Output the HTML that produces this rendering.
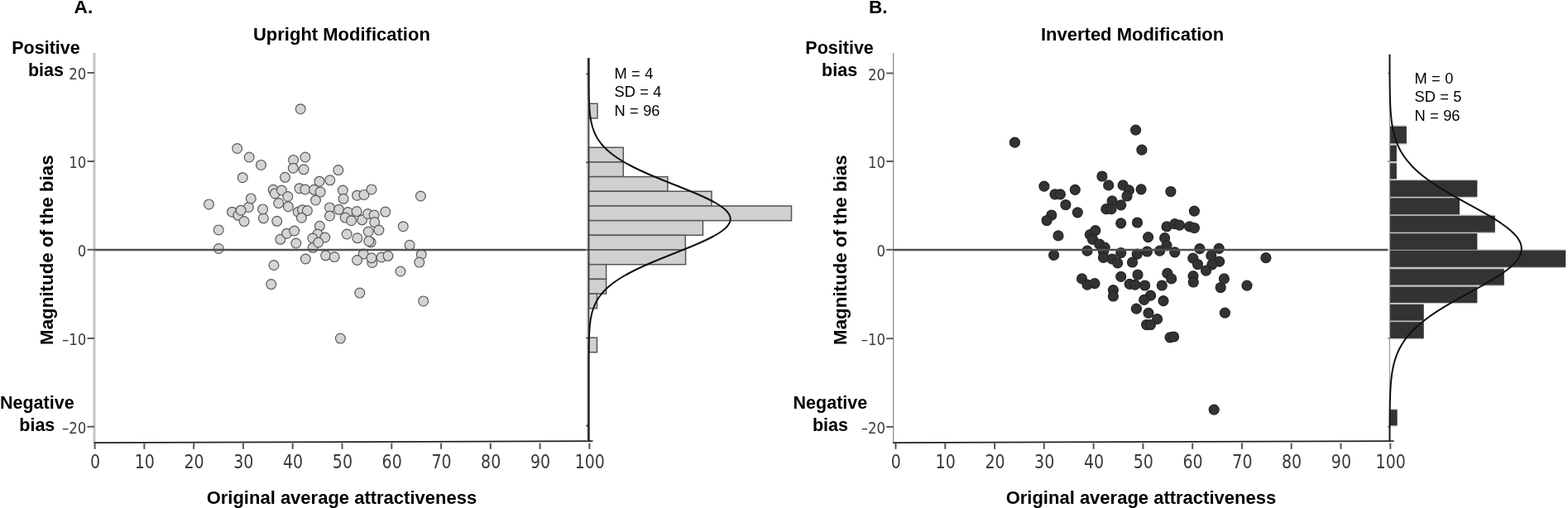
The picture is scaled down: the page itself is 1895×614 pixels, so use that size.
<!DOCTYPE html><html><head><meta charset="utf-8"><style>html,body{margin:0;padding:0;background:#fff}svg{display:block}</style></head><body>
<svg width="1895" height="614" viewBox="0 0 1895 614">
<rect width="1895" height="614" fill="#fff"/>
<text x="89.6" y="16.2" style="font-family:'Liberation Sans',Arial,sans-serif;font-weight:bold;font-size:22.6px">A.</text>
<text x="412.9" y="49" text-anchor="middle" style="font-family:'Liberation Sans',Arial,sans-serif;font-weight:bold;font-size:22px">Upright Modification</text>
<text x="55.5" y="65.1" text-anchor="middle" style="font-family:'Liberation Sans',Arial,sans-serif;font-weight:bold;font-size:21.5px">Positive</text>
<text x="55.5" y="92" text-anchor="middle" style="font-family:'Liberation Sans',Arial,sans-serif;font-weight:bold;font-size:21.5px">bias</text>
<text x="44.8" y="493.8" text-anchor="middle" style="font-family:'Liberation Sans',Arial,sans-serif;font-weight:bold;font-size:21.5px">Negative</text>
<text x="44.8" y="521" text-anchor="middle" style="font-family:'Liberation Sans',Arial,sans-serif;font-weight:bold;font-size:21.5px">bias</text>
<text transform="translate(64.0,302.1) rotate(-90)" text-anchor="middle" style="font-family:'Liberation Sans',Arial,sans-serif;font-weight:bold;font-size:22.35px">Magnitude of the bias</text>
<line x1="114" y1="64" x2="114" y2="535.1" style="stroke:#c4c4c4;stroke-width:3"/>
<line x1="105.5" y1="88" x2="114" y2="88" stroke="#5a5a5a" stroke-width="2"/>
<text transform="translate(104.4,96.2) scale(0.96,1)" text-anchor="end" fill="#3c3c3c" style="font-family:'DejaVu Sans Condensed','DejaVu Sans',sans-serif;font-stretch:condensed;font-size:19.2px">20</text>
<line x1="105.5" y1="195" x2="114" y2="195" stroke="#5a5a5a" stroke-width="2"/>
<text transform="translate(104.4,203.2) scale(0.96,1)" text-anchor="end" fill="#3c3c3c" style="font-family:'DejaVu Sans Condensed','DejaVu Sans',sans-serif;font-stretch:condensed;font-size:19.2px">10</text>
<line x1="105.5" y1="301.8" x2="114" y2="301.8" stroke="#5a5a5a" stroke-width="2"/>
<text transform="translate(104.4,310.0) scale(0.96,1)" text-anchor="end" fill="#3c3c3c" style="font-family:'DejaVu Sans Condensed','DejaVu Sans',sans-serif;font-stretch:condensed;font-size:19.2px">0</text>
<line x1="105.5" y1="408.9" x2="114" y2="408.9" stroke="#5a5a5a" stroke-width="2"/>
<text transform="translate(104.4,417.09999999999997) scale(0.96,1)" text-anchor="end" fill="#3c3c3c" style="font-family:'DejaVu Sans Condensed','DejaVu Sans',sans-serif;font-stretch:condensed;font-size:19.2px">–10</text>
<line x1="105.5" y1="515.7" x2="114" y2="515.7" stroke="#5a5a5a" stroke-width="2"/>
<text transform="translate(104.4,523.9000000000001) scale(0.96,1)" text-anchor="end" fill="#3c3c3c" style="font-family:'DejaVu Sans Condensed','DejaVu Sans',sans-serif;font-stretch:condensed;font-size:19.2px">–20</text>
<line x1="113.5" y1="535.1" x2="716.5" y2="533.1" stroke="#222" stroke-width="1.7"/>
<line x1="114.6" y1="535.6" x2="114.6" y2="542.8" stroke="#555" stroke-width="2"/>
<text transform="translate(115.0,566) scale(0.9,1)" text-anchor="middle" fill="#3a3a3a" style="font-family:'DejaVu Sans Condensed','DejaVu Sans',sans-serif;font-stretch:condensed;font-size:23.5px">0</text>
<line x1="174.4" y1="535.6" x2="174.4" y2="542.8" stroke="#555" stroke-width="2"/>
<text transform="translate(174.8,566) scale(0.9,1)" text-anchor="middle" fill="#3a3a3a" style="font-family:'DejaVu Sans Condensed','DejaVu Sans',sans-serif;font-stretch:condensed;font-size:23.5px">10</text>
<line x1="234.2" y1="535.6" x2="234.2" y2="542.8" stroke="#555" stroke-width="2"/>
<text transform="translate(234.6,566) scale(0.9,1)" text-anchor="middle" fill="#3a3a3a" style="font-family:'DejaVu Sans Condensed','DejaVu Sans',sans-serif;font-stretch:condensed;font-size:23.5px">20</text>
<line x1="293.9" y1="535.6" x2="293.9" y2="542.8" stroke="#555" stroke-width="2"/>
<text transform="translate(294.3,566) scale(0.9,1)" text-anchor="middle" fill="#3a3a3a" style="font-family:'DejaVu Sans Condensed','DejaVu Sans',sans-serif;font-stretch:condensed;font-size:23.5px">30</text>
<line x1="353.7" y1="535.6" x2="353.7" y2="542.8" stroke="#555" stroke-width="2"/>
<text transform="translate(354.1,566) scale(0.9,1)" text-anchor="middle" fill="#3a3a3a" style="font-family:'DejaVu Sans Condensed','DejaVu Sans',sans-serif;font-stretch:condensed;font-size:23.5px">40</text>
<line x1="413.5" y1="535.6" x2="413.5" y2="542.8" stroke="#555" stroke-width="2"/>
<text transform="translate(413.9,566) scale(0.9,1)" text-anchor="middle" fill="#3a3a3a" style="font-family:'DejaVu Sans Condensed','DejaVu Sans',sans-serif;font-stretch:condensed;font-size:23.5px">50</text>
<line x1="473.3" y1="535.6" x2="473.3" y2="542.8" stroke="#555" stroke-width="2"/>
<text transform="translate(473.7,566) scale(0.9,1)" text-anchor="middle" fill="#3a3a3a" style="font-family:'DejaVu Sans Condensed','DejaVu Sans',sans-serif;font-stretch:condensed;font-size:23.5px">60</text>
<line x1="533.1" y1="535.6" x2="533.1" y2="542.8" stroke="#555" stroke-width="2"/>
<text transform="translate(533.5,566) scale(0.9,1)" text-anchor="middle" fill="#3a3a3a" style="font-family:'DejaVu Sans Condensed','DejaVu Sans',sans-serif;font-stretch:condensed;font-size:23.5px">70</text>
<line x1="592.8" y1="535.6" x2="592.8" y2="542.8" stroke="#555" stroke-width="2"/>
<text transform="translate(593.2,566) scale(0.9,1)" text-anchor="middle" fill="#3a3a3a" style="font-family:'DejaVu Sans Condensed','DejaVu Sans',sans-serif;font-stretch:condensed;font-size:23.5px">80</text>
<line x1="652.6" y1="535.6" x2="652.6" y2="542.8" stroke="#555" stroke-width="2"/>
<text transform="translate(653.0,566) scale(0.9,1)" text-anchor="middle" fill="#3a3a3a" style="font-family:'DejaVu Sans Condensed','DejaVu Sans',sans-serif;font-stretch:condensed;font-size:23.5px">90</text>
<line x1="712.4" y1="535.6" x2="712.4" y2="542.8" stroke="#555" stroke-width="2"/>
<text transform="translate(712.8,566) scale(0.9,1)" text-anchor="middle" fill="#3a3a3a" style="font-family:'DejaVu Sans Condensed','DejaVu Sans',sans-serif;font-stretch:condensed;font-size:23.5px">100</text>
<text x="412.9" y="609" text-anchor="middle" style="font-family:'Liberation Sans',Arial,sans-serif;font-weight:bold;font-size:22px">Original average attractiveness</text>
<rect x="711.5" y="125.20" width="10.5" height="17.68" fill="#d0d0d0" stroke="#555" stroke-width="1.5"/>
<rect x="711.5" y="178.24" width="41.8" height="17.68" fill="#d0d0d0" stroke="#555" stroke-width="1.5"/>
<rect x="711.5" y="195.92" width="41.8" height="17.68" fill="#d0d0d0" stroke="#555" stroke-width="1.5"/>
<rect x="711.5" y="213.60" width="95.4" height="17.68" fill="#d0d0d0" stroke="#555" stroke-width="1.5"/>
<rect x="711.5" y="231.28" width="148.5" height="17.68" fill="#d0d0d0" stroke="#555" stroke-width="1.5"/>
<rect x="711.5" y="248.96" width="245" height="17.68" fill="#d0d0d0" stroke="#555" stroke-width="1.5"/>
<rect x="711.5" y="266.64" width="138" height="17.68" fill="#d0d0d0" stroke="#555" stroke-width="1.5"/>
<rect x="711.5" y="284.32" width="116.8" height="17.68" fill="#d0d0d0" stroke="#555" stroke-width="1.5"/>
<rect x="711.5" y="302.00" width="117.1" height="17.68" fill="#d0d0d0" stroke="#555" stroke-width="1.5"/>
<rect x="711.5" y="319.68" width="21.1" height="17.68" fill="#d0d0d0" stroke="#555" stroke-width="1.5"/>
<rect x="711.5" y="337.36" width="21.1" height="17.68" fill="#d0d0d0" stroke="#555" stroke-width="1.5"/>
<rect x="711.5" y="355.04" width="10" height="17.68" fill="#d0d0d0" stroke="#555" stroke-width="1.5"/>
<rect x="711.5" y="408.08" width="10" height="17.68" fill="#d0d0d0" stroke="#555" stroke-width="1.5"/>
<line x1="709.9" y1="70" x2="709.9" y2="533.1" stroke="#c0c0c0" stroke-width="1.4"/>
<line x1="711.5" y1="70" x2="711.5" y2="533.1" stroke="#333" stroke-width="1.6"/>
<line x1="708.3" y1="89.5" x2="711.5" y2="89.5" stroke="#444" stroke-width="1.8"/>
<line x1="708.3" y1="196.2" x2="711.5" y2="196.2" stroke="#444" stroke-width="1.8"/>
<line x1="708.3" y1="302" x2="711.5" y2="302" stroke="#444" stroke-width="1.8"/>
<line x1="708.3" y1="408.5" x2="711.5" y2="408.5" stroke="#444" stroke-width="1.8"/>
<line x1="708.3" y1="514.5" x2="711.5" y2="514.5" stroke="#444" stroke-width="1.8"/>
<polyline points="711.50,70.00 711.50,71.00 711.50,72.00 711.50,73.00 711.50,74.00 711.50,75.00 711.51,76.00 711.51,77.00 711.51,78.00 711.51,79.00 711.51,80.00 711.51,81.00 711.51,82.00 711.51,83.00 711.51,84.00 711.51,85.00 711.51,86.00 711.52,87.00 711.52,88.00 711.52,89.00 711.52,90.00 711.52,91.00 711.53,92.00 711.53,93.00 711.53,94.00 711.54,95.00 711.54,96.00 711.54,97.00 711.55,98.00 711.55,99.00 711.56,100.00 711.57,101.00 711.57,102.00 711.58,103.00 711.59,104.00 711.60,105.00 711.61,106.00 711.62,107.00 711.63,108.00 711.64,109.00 711.65,110.00 711.67,111.00 711.68,112.00 711.70,113.00 711.72,114.00 711.74,115.00 711.76,116.00 711.79,117.00 711.81,118.00 711.84,119.00 711.87,120.00 711.90,121.00 711.94,122.00 711.98,123.00 712.02,124.00 712.06,125.00 712.11,126.00 712.16,127.00 712.22,128.00 712.27,129.00 712.34,130.00 712.41,131.00 712.48,132.00 712.56,133.00 712.64,134.00 712.74,135.00 712.83,136.00 712.94,137.00 713.05,138.00 713.17,139.00 713.29,140.00 713.43,141.00 713.57,142.00 713.73,143.00 713.89,144.00 714.07,145.00 714.25,146.00 714.45,147.00 714.66,148.00 714.88,149.00 715.12,150.00 715.37,151.00 715.64,152.00 715.92,153.00 716.21,154.00 716.53,155.00 716.86,156.00 717.21,157.00 717.58,158.00 717.97,159.00 718.39,160.00 718.82,161.00 719.28,162.00 719.76,163.00 720.26,164.00 720.79,165.00 721.35,166.00 721.93,167.00 722.54,168.00 723.18,169.00 723.85,170.00 724.56,171.00 725.29,172.00 726.05,173.00 726.85,174.00 727.69,175.00 728.56,176.00 729.46,177.00 730.40,178.00 731.38,179.00 732.40,180.00 733.46,181.00 734.56,182.00 735.70,183.00 736.88,184.00 738.10,185.00 739.36,186.00 740.67,187.00 742.02,188.00 743.41,189.00 744.85,190.00 746.33,191.00 747.86,192.00 749.43,193.00 751.05,194.00 752.71,195.00 754.42,196.00 756.17,197.00 757.97,198.00 759.80,199.00 761.69,200.00 763.61,201.00 765.58,202.00 767.59,203.00 769.64,204.00 771.72,205.00 773.85,206.00 776.01,207.00 778.22,208.00 780.45,209.00 782.72,210.00 785.02,211.00 787.35,212.00 789.70,213.00 792.09,214.00 794.49,215.00 796.92,216.00 799.37,217.00 801.84,218.00 804.32,219.00 806.81,220.00 809.31,221.00 811.82,222.00 814.33,223.00 816.85,224.00 819.36,225.00 821.87,226.00 824.37,227.00 826.85,228.00 829.33,229.00 831.79,230.00 834.22,231.00 836.63,232.00 839.02,233.00 841.37,234.00 843.69,235.00 845.98,236.00 848.22,237.00 850.41,238.00 852.56,239.00 854.66,240.00 856.71,241.00 858.70,242.00 860.63,243.00 862.49,244.00 864.29,245.00 866.02,246.00 867.68,247.00 869.26,248.00 870.77,249.00 872.19,250.00 873.54,251.00 874.79,252.00 875.97,253.00 877.05,254.00 878.04,255.00 878.94,256.00 879.75,257.00 880.46,258.00 881.08,259.00 881.59,260.00 882.01,261.00 882.33,262.00 882.56,263.00 882.68,264.00 882.70,265.00 882.62,266.00 882.43,267.00 882.15,268.00 881.77,269.00 881.30,270.00 880.72,271.00 880.05,272.00 879.28,273.00 878.41,274.00 877.46,275.00 876.41,276.00 875.27,277.00 874.05,278.00 872.74,279.00 871.35,280.00 869.87,281.00 868.32,282.00 866.69,283.00 864.99,284.00 863.22,285.00 861.38,286.00 859.48,287.00 857.51,288.00 855.49,289.00 853.41,290.00 851.28,291.00 849.10,292.00 846.88,293.00 844.61,294.00 842.30,295.00 839.96,296.00 837.59,297.00 835.19,298.00 832.76,299.00 830.31,300.00 827.85,301.00 825.36,302.00 822.87,303.00 820.36,304.00 817.85,305.00 815.34,306.00 812.82,307.00 810.31,308.00 807.81,309.00 805.31,310.00 802.83,311.00 800.35,312.00 797.90,313.00 795.46,314.00 793.05,315.00 790.65,316.00 788.29,317.00 785.95,318.00 783.63,319.00 781.35,320.00 779.10,321.00 776.89,322.00 774.71,323.00 772.57,324.00 770.47,325.00 768.40,326.00 766.38,327.00 764.39,328.00 762.45,329.00 760.55,330.00 758.70,331.00 756.88,332.00 755.11,333.00 753.39,334.00 751.71,335.00 750.08,336.00 748.49,337.00 746.94,338.00 745.44,339.00 743.98,340.00 742.57,341.00 741.20,342.00 739.88,343.00 738.60,344.00 737.36,345.00 736.16,346.00 735.01,347.00 733.89,348.00 732.82,349.00 731.79,350.00 730.79,351.00 729.83,352.00 728.91,353.00 728.03,354.00 727.18,355.00 726.37,356.00 725.59,357.00 724.84,358.00 724.13,359.00 723.45,360.00 722.80,361.00 722.17,362.00 721.58,363.00 721.01,364.00 720.47,365.00 719.95,366.00 719.47,367.00 719.00,368.00 718.56,369.00 718.14,370.00 717.74,371.00 717.36,372.00 717.00,373.00 716.66,374.00 716.34,375.00 716.03,376.00 715.75,377.00 715.47,378.00 715.22,379.00 714.98,380.00 714.75,381.00 714.53,382.00 714.33,383.00 714.14,384.00 713.96,385.00 713.79,386.00 713.63,387.00 713.49,388.00 713.35,389.00 713.22,390.00 713.09,391.00 712.98,392.00 712.87,393.00 712.77,394.00 712.68,395.00 712.59,396.00 712.51,397.00 712.44,398.00 712.37,399.00 712.30,400.00 712.24,401.00 712.18,402.00 712.13,403.00 712.08,404.00 712.03,405.00 711.99,406.00 711.95,407.00 711.92,408.00 711.88,409.00 711.85,410.00 711.82,411.00 711.80,412.00 711.77,413.00 711.75,414.00 711.73,415.00 711.71,416.00 711.69,417.00 711.67,418.00 711.66,419.00 711.65,420.00 711.63,421.00 711.62,422.00 711.61,423.00 711.60,424.00 711.59,425.00 711.58,426.00 711.58,427.00 711.57,428.00 711.56,429.00 711.56,430.00 711.55,431.00 711.55,432.00 711.54,433.00 711.54,434.00 711.53,435.00 711.53,436.00 711.53,437.00 711.53,438.00 711.52,439.00 711.52,440.00 711.52,441.00 711.52,442.00 711.52,443.00 711.51,444.00 711.51,445.00 711.51,446.00 711.51,447.00 711.51,448.00 711.51,449.00 711.51,450.00 711.51,451.00 711.51,452.00 711.51,453.00 711.50,454.00 711.50,455.00 711.50,456.00 711.50,457.00 711.50,458.00 711.50,459.00 711.50,460.00 711.50,461.00 711.50,462.00 711.50,463.00 711.50,464.00 711.50,465.00 711.50,466.00 711.50,467.00 711.50,468.00 711.50,469.00 711.50,470.00 711.50,471.00 711.50,472.00 711.50,473.00 711.50,474.00 711.50,475.00 711.50,476.00 711.50,477.00 711.50,478.00 711.50,479.00 711.50,480.00 711.50,481.00 711.50,482.00 711.50,483.00 711.50,484.00 711.50,485.00 711.50,486.00 711.50,487.00 711.50,488.00 711.50,489.00 711.50,490.00 711.50,491.00 711.50,492.00 711.50,493.00 711.50,494.00 711.50,495.00 711.50,496.00 711.50,497.00 711.50,498.00 711.50,499.00 711.50,500.00 711.50,501.00 711.50,502.00 711.50,503.00 711.50,504.00 711.50,505.00 711.50,506.00 711.50,507.00 711.50,508.00 711.50,509.00 711.50,510.00 711.50,511.00 711.50,512.00 711.50,513.00 711.50,514.00 711.50,515.00 711.50,516.00 711.50,517.00 711.50,518.00 711.50,519.00 711.50,520.00 711.50,521.00 711.50,522.00 711.50,523.00 711.50,524.00 711.50,525.00 711.50,526.00 711.50,527.00 711.50,528.00 711.50,529.00 711.50,530.00 711.50,531.00 711.50,532.00 711.50,533.00 711.50,534.00" fill="none" stroke="#111" stroke-width="2"/>
<text x="742.5" y="94.7" style="font-family:'Liberation Sans',Arial,sans-serif;font-size:18.3px;word-spacing:0.3px">M = 4</text>
<text x="742.5" y="117" style="font-family:'Liberation Sans',Arial,sans-serif;font-size:18.3px;word-spacing:0.3px">SD = 4</text>
<text x="742.5" y="139.8" style="font-family:'Liberation Sans',Arial,sans-serif;font-size:18.3px;word-spacing:0.3px">N = 96</text>
<circle cx="363.2" cy="131.7" r="5.9" fill="#d4d4d4" stroke="#5a5a5a" stroke-width="1.2"/>
<circle cx="286.7" cy="179.5" r="5.9" fill="#d4d4d4" stroke="#5a5a5a" stroke-width="1.2"/>
<circle cx="301.2" cy="190" r="5.9" fill="#d4d4d4" stroke="#5a5a5a" stroke-width="1.2"/>
<circle cx="315.5" cy="199.4" r="5.9" fill="#d4d4d4" stroke="#5a5a5a" stroke-width="1.2"/>
<circle cx="354.6" cy="193.4" r="5.9" fill="#d4d4d4" stroke="#5a5a5a" stroke-width="1.2"/>
<circle cx="368.9" cy="190" r="5.9" fill="#d4d4d4" stroke="#5a5a5a" stroke-width="1.2"/>
<circle cx="354.3" cy="203.2" r="5.9" fill="#d4d4d4" stroke="#5a5a5a" stroke-width="1.2"/>
<circle cx="367.1" cy="204.8" r="5.9" fill="#d4d4d4" stroke="#5a5a5a" stroke-width="1.2"/>
<circle cx="293.2" cy="214.7" r="5.9" fill="#d4d4d4" stroke="#5a5a5a" stroke-width="1.2"/>
<circle cx="344.5" cy="214.3" r="5.9" fill="#d4d4d4" stroke="#5a5a5a" stroke-width="1.2"/>
<circle cx="252.5" cy="246.9" r="5.9" fill="#d4d4d4" stroke="#5a5a5a" stroke-width="1.2"/>
<circle cx="280.5" cy="256.2" r="5.9" fill="#d4d4d4" stroke="#5a5a5a" stroke-width="1.2"/>
<circle cx="287.8" cy="260.3" r="5.9" fill="#d4d4d4" stroke="#5a5a5a" stroke-width="1.2"/>
<circle cx="300.4" cy="250.5" r="5.9" fill="#d4d4d4" stroke="#5a5a5a" stroke-width="1.2"/>
<circle cx="291.1" cy="254.2" r="5.9" fill="#d4d4d4" stroke="#5a5a5a" stroke-width="1.2"/>
<circle cx="303.3" cy="239.9" r="5.9" fill="#d4d4d4" stroke="#5a5a5a" stroke-width="1.2"/>
<circle cx="295.1" cy="267.6" r="5.9" fill="#d4d4d4" stroke="#5a5a5a" stroke-width="1.2"/>
<circle cx="318.4" cy="263.8" r="5.9" fill="#d4d4d4" stroke="#5a5a5a" stroke-width="1.2"/>
<circle cx="317.6" cy="252.9" r="5.9" fill="#d4d4d4" stroke="#5a5a5a" stroke-width="1.2"/>
<circle cx="334.7" cy="267.3" r="5.9" fill="#d4d4d4" stroke="#5a5a5a" stroke-width="1.2"/>
<circle cx="330.2" cy="229.3" r="5.9" fill="#d4d4d4" stroke="#5a5a5a" stroke-width="1.2"/>
<circle cx="332.3" cy="233.9" r="5.9" fill="#d4d4d4" stroke="#5a5a5a" stroke-width="1.2"/>
<circle cx="340.4" cy="230.1" r="5.9" fill="#d4d4d4" stroke="#5a5a5a" stroke-width="1.2"/>
<circle cx="347.8" cy="237.5" r="5.9" fill="#d4d4d4" stroke="#5a5a5a" stroke-width="1.2"/>
<circle cx="336.7" cy="245.6" r="5.9" fill="#d4d4d4" stroke="#5a5a5a" stroke-width="1.2"/>
<circle cx="348.4" cy="249.7" r="5.9" fill="#d4d4d4" stroke="#5a5a5a" stroke-width="1.2"/>
<circle cx="361.9" cy="227.7" r="5.9" fill="#d4d4d4" stroke="#5a5a5a" stroke-width="1.2"/>
<circle cx="368.8" cy="229" r="5.9" fill="#d4d4d4" stroke="#5a5a5a" stroke-width="1.2"/>
<circle cx="379.5" cy="229.3" r="5.9" fill="#d4d4d4" stroke="#5a5a5a" stroke-width="1.2"/>
<circle cx="386" cy="219.2" r="5.9" fill="#d4d4d4" stroke="#5a5a5a" stroke-width="1.2"/>
<circle cx="387.2" cy="232.1" r="5.9" fill="#d4d4d4" stroke="#5a5a5a" stroke-width="1.2"/>
<circle cx="381.5" cy="242" r="5.9" fill="#d4d4d4" stroke="#5a5a5a" stroke-width="1.2"/>
<circle cx="360.3" cy="256.2" r="5.9" fill="#d4d4d4" stroke="#5a5a5a" stroke-width="1.2"/>
<circle cx="365.5" cy="253.7" r="5.9" fill="#d4d4d4" stroke="#5a5a5a" stroke-width="1.2"/>
<circle cx="371.4" cy="254.6" r="5.9" fill="#d4d4d4" stroke="#5a5a5a" stroke-width="1.2"/>
<circle cx="364.4" cy="263.2" r="5.9" fill="#d4d4d4" stroke="#5a5a5a" stroke-width="1.2"/>
<circle cx="264.2" cy="277.9" r="5.9" fill="#d4d4d4" stroke="#5a5a5a" stroke-width="1.2"/>
<circle cx="264.3" cy="300.5" r="5.9" fill="#d4d4d4" stroke="#5a5a5a" stroke-width="1.2"/>
<circle cx="338.8" cy="289.3" r="5.9" fill="#d4d4d4" stroke="#5a5a5a" stroke-width="1.2"/>
<circle cx="346.6" cy="282.2" r="5.9" fill="#d4d4d4" stroke="#5a5a5a" stroke-width="1.2"/>
<circle cx="355.7" cy="279" r="5.9" fill="#d4d4d4" stroke="#5a5a5a" stroke-width="1.2"/>
<circle cx="357.8" cy="294" r="5.9" fill="#d4d4d4" stroke="#5a5a5a" stroke-width="1.2"/>
<circle cx="386.4" cy="273.3" r="5.9" fill="#d4d4d4" stroke="#5a5a5a" stroke-width="1.2"/>
<circle cx="383.9" cy="283.1" r="5.9" fill="#d4d4d4" stroke="#5a5a5a" stroke-width="1.2"/>
<circle cx="377.9" cy="288" r="5.9" fill="#d4d4d4" stroke="#5a5a5a" stroke-width="1.2"/>
<circle cx="378.2" cy="299.3" r="5.9" fill="#d4d4d4" stroke="#5a5a5a" stroke-width="1.2"/>
<circle cx="408.8" cy="205.6" r="5.9" fill="#d4d4d4" stroke="#5a5a5a" stroke-width="1.2"/>
<circle cx="398.8" cy="217.8" r="5.9" fill="#d4d4d4" stroke="#5a5a5a" stroke-width="1.2"/>
<circle cx="414.3" cy="230" r="5.9" fill="#d4d4d4" stroke="#5a5a5a" stroke-width="1.2"/>
<circle cx="415.1" cy="240.3" r="5.9" fill="#d4d4d4" stroke="#5a5a5a" stroke-width="1.2"/>
<circle cx="431.6" cy="236.2" r="5.9" fill="#d4d4d4" stroke="#5a5a5a" stroke-width="1.2"/>
<circle cx="440" cy="235.4" r="5.9" fill="#d4d4d4" stroke="#5a5a5a" stroke-width="1.2"/>
<circle cx="449" cy="228.9" r="5.9" fill="#d4d4d4" stroke="#5a5a5a" stroke-width="1.2"/>
<circle cx="508.4" cy="237" r="5.9" fill="#d4d4d4" stroke="#5a5a5a" stroke-width="1.2"/>
<circle cx="398.5" cy="250.9" r="5.9" fill="#d4d4d4" stroke="#5a5a5a" stroke-width="1.2"/>
<circle cx="398.5" cy="261" r="5.9" fill="#d4d4d4" stroke="#5a5a5a" stroke-width="1.2"/>
<circle cx="409.6" cy="253.3" r="5.9" fill="#d4d4d4" stroke="#5a5a5a" stroke-width="1.2"/>
<circle cx="420.5" cy="256.6" r="5.9" fill="#d4d4d4" stroke="#5a5a5a" stroke-width="1.2"/>
<circle cx="417.2" cy="263.1" r="5.9" fill="#d4d4d4" stroke="#5a5a5a" stroke-width="1.2"/>
<circle cx="424.6" cy="266.7" r="5.9" fill="#d4d4d4" stroke="#5a5a5a" stroke-width="1.2"/>
<circle cx="431.1" cy="255.6" r="5.9" fill="#d4d4d4" stroke="#5a5a5a" stroke-width="1.2"/>
<circle cx="437.6" cy="265.8" r="5.9" fill="#d4d4d4" stroke="#5a5a5a" stroke-width="1.2"/>
<circle cx="444.6" cy="258.5" r="5.9" fill="#d4d4d4" stroke="#5a5a5a" stroke-width="1.2"/>
<circle cx="452.2" cy="260.1" r="5.9" fill="#d4d4d4" stroke="#5a5a5a" stroke-width="1.2"/>
<circle cx="452.7" cy="268.6" r="5.9" fill="#d4d4d4" stroke="#5a5a5a" stroke-width="1.2"/>
<circle cx="465.8" cy="256.1" r="5.9" fill="#d4d4d4" stroke="#5a5a5a" stroke-width="1.2"/>
<circle cx="392.8" cy="287" r="5.9" fill="#d4d4d4" stroke="#5a5a5a" stroke-width="1.2"/>
<circle cx="419.2" cy="283" r="5.9" fill="#d4d4d4" stroke="#5a5a5a" stroke-width="1.2"/>
<circle cx="431.9" cy="287.8" r="5.9" fill="#d4d4d4" stroke="#5a5a5a" stroke-width="1.2"/>
<circle cx="445.2" cy="280" r="5.9" fill="#d4d4d4" stroke="#5a5a5a" stroke-width="1.2"/>
<circle cx="457.9" cy="278.1" r="5.9" fill="#d4d4d4" stroke="#5a5a5a" stroke-width="1.2"/>
<circle cx="448.2" cy="292.8" r="5.9" fill="#d4d4d4" stroke="#5a5a5a" stroke-width="1.2"/>
<circle cx="445.8" cy="291.4" r="5.9" fill="#d4d4d4" stroke="#5a5a5a" stroke-width="1.2"/>
<circle cx="487.3" cy="273.7" r="5.9" fill="#d4d4d4" stroke="#5a5a5a" stroke-width="1.2"/>
<circle cx="495.1" cy="296.3" r="5.9" fill="#d4d4d4" stroke="#5a5a5a" stroke-width="1.2"/>
<circle cx="369.3" cy="313" r="5.9" fill="#d4d4d4" stroke="#5a5a5a" stroke-width="1.2"/>
<circle cx="331" cy="320.5" r="5.9" fill="#d4d4d4" stroke="#5a5a5a" stroke-width="1.2"/>
<circle cx="327.7" cy="343.6" r="5.9" fill="#d4d4d4" stroke="#5a5a5a" stroke-width="1.2"/>
<circle cx="384.7" cy="293" r="5.9" fill="#d4d4d4" stroke="#5a5a5a" stroke-width="1.2"/>
<circle cx="393.6" cy="308.8" r="5.9" fill="#d4d4d4" stroke="#5a5a5a" stroke-width="1.2"/>
<circle cx="404.2" cy="310.6" r="5.9" fill="#d4d4d4" stroke="#5a5a5a" stroke-width="1.2"/>
<circle cx="439.2" cy="306.9" r="5.9" fill="#d4d4d4" stroke="#5a5a5a" stroke-width="1.2"/>
<circle cx="431.6" cy="314.5" r="5.9" fill="#d4d4d4" stroke="#5a5a5a" stroke-width="1.2"/>
<circle cx="449.8" cy="317.5" r="5.9" fill="#d4d4d4" stroke="#5a5a5a" stroke-width="1.2"/>
<circle cx="449" cy="311.8" r="5.9" fill="#d4d4d4" stroke="#5a5a5a" stroke-width="1.2"/>
<circle cx="461" cy="311" r="5.9" fill="#d4d4d4" stroke="#5a5a5a" stroke-width="1.2"/>
<circle cx="469" cy="309.3" r="5.9" fill="#d4d4d4" stroke="#5a5a5a" stroke-width="1.2"/>
<circle cx="509.2" cy="307.7" r="5.9" fill="#d4d4d4" stroke="#5a5a5a" stroke-width="1.2"/>
<circle cx="506.8" cy="317.1" r="5.9" fill="#d4d4d4" stroke="#5a5a5a" stroke-width="1.2"/>
<circle cx="484" cy="328" r="5.9" fill="#d4d4d4" stroke="#5a5a5a" stroke-width="1.2"/>
<circle cx="434.8" cy="354.1" r="5.9" fill="#d4d4d4" stroke="#5a5a5a" stroke-width="1.2"/>
<circle cx="511.7" cy="363.9" r="5.9" fill="#d4d4d4" stroke="#5a5a5a" stroke-width="1.2"/>
<circle cx="411.4" cy="409.1" r="5.9" fill="#d4d4d4" stroke="#5a5a5a" stroke-width="1.2"/>
<line x1="114" y1="302" x2="708" y2="302" stroke="#505050" stroke-width="2.7"/>
<text x="1049.9" y="16.2" style="font-family:'Liberation Sans',Arial,sans-serif;font-weight:bold;font-size:22.6px">B.</text>
<text x="1368.6" y="49" text-anchor="middle" style="font-family:'Liberation Sans',Arial,sans-serif;font-weight:bold;font-size:22px">Inverted Modification</text>
<text x="1014.6" y="65.1" text-anchor="middle" style="font-family:'Liberation Sans',Arial,sans-serif;font-weight:bold;font-size:21.5px">Positive</text>
<text x="1014.6" y="92" text-anchor="middle" style="font-family:'Liberation Sans',Arial,sans-serif;font-weight:bold;font-size:21.5px">bias</text>
<text x="1003.4" y="493.8" text-anchor="middle" style="font-family:'Liberation Sans',Arial,sans-serif;font-weight:bold;font-size:21.5px">Negative</text>
<text x="1003.4" y="521" text-anchor="middle" style="font-family:'Liberation Sans',Arial,sans-serif;font-weight:bold;font-size:21.5px">bias</text>
<text transform="translate(1023.1,302.1) rotate(-90)" text-anchor="middle" style="font-family:'Liberation Sans',Arial,sans-serif;font-weight:bold;font-size:22.35px">Magnitude of the bias</text>
<line x1="1079.7" y1="64" x2="1079.7" y2="535.1" style="stroke:#888;stroke-width:1.2"/>
<line x1="1071.2" y1="88.5" x2="1079.7" y2="88.5" stroke="#5a5a5a" stroke-width="2"/>
<text transform="translate(1070.1000000000001,96.7) scale(0.96,1)" text-anchor="end" fill="#3c3c3c" style="font-family:'DejaVu Sans Condensed','DejaVu Sans',sans-serif;font-stretch:condensed;font-size:19.2px">20</text>
<line x1="1071.2" y1="195" x2="1079.7" y2="195" stroke="#5a5a5a" stroke-width="2"/>
<text transform="translate(1070.1000000000001,203.2) scale(0.96,1)" text-anchor="end" fill="#3c3c3c" style="font-family:'DejaVu Sans Condensed','DejaVu Sans',sans-serif;font-stretch:condensed;font-size:19.2px">10</text>
<line x1="1071.2" y1="301.8" x2="1079.7" y2="301.8" stroke="#5a5a5a" stroke-width="2"/>
<text transform="translate(1070.1000000000001,310.0) scale(0.96,1)" text-anchor="end" fill="#3c3c3c" style="font-family:'DejaVu Sans Condensed','DejaVu Sans',sans-serif;font-stretch:condensed;font-size:19.2px">0</text>
<line x1="1071.2" y1="409.2" x2="1079.7" y2="409.2" stroke="#5a5a5a" stroke-width="2"/>
<text transform="translate(1070.1000000000001,417.4) scale(0.96,1)" text-anchor="end" fill="#3c3c3c" style="font-family:'DejaVu Sans Condensed','DejaVu Sans',sans-serif;font-stretch:condensed;font-size:19.2px">–10</text>
<line x1="1071.2" y1="515.9" x2="1079.7" y2="515.9" stroke="#5a5a5a" stroke-width="2"/>
<text transform="translate(1070.1000000000001,524.1) scale(0.96,1)" text-anchor="end" fill="#3c3c3c" style="font-family:'DejaVu Sans Condensed','DejaVu Sans',sans-serif;font-stretch:condensed;font-size:19.2px">–20</text>
<line x1="1079.2" y1="535.1" x2="1684.5" y2="533.1" stroke="#222" stroke-width="1.7"/>
<line x1="1082.5" y1="535.6" x2="1082.5" y2="542.8" stroke="#555" stroke-width="2"/>
<text transform="translate(1082.9,566) scale(0.9,1)" text-anchor="middle" fill="#3a3a3a" style="font-family:'DejaVu Sans Condensed','DejaVu Sans',sans-serif;font-stretch:condensed;font-size:23.5px">0</text>
<line x1="1142.3" y1="535.6" x2="1142.3" y2="542.8" stroke="#555" stroke-width="2"/>
<text transform="translate(1142.7,566) scale(0.9,1)" text-anchor="middle" fill="#3a3a3a" style="font-family:'DejaVu Sans Condensed','DejaVu Sans',sans-serif;font-stretch:condensed;font-size:23.5px">10</text>
<line x1="1202.1" y1="535.6" x2="1202.1" y2="542.8" stroke="#555" stroke-width="2"/>
<text transform="translate(1202.5,566) scale(0.9,1)" text-anchor="middle" fill="#3a3a3a" style="font-family:'DejaVu Sans Condensed','DejaVu Sans',sans-serif;font-stretch:condensed;font-size:23.5px">20</text>
<line x1="1261.8" y1="535.6" x2="1261.8" y2="542.8" stroke="#555" stroke-width="2"/>
<text transform="translate(1262.2,566) scale(0.9,1)" text-anchor="middle" fill="#3a3a3a" style="font-family:'DejaVu Sans Condensed','DejaVu Sans',sans-serif;font-stretch:condensed;font-size:23.5px">30</text>
<line x1="1321.6" y1="535.6" x2="1321.6" y2="542.8" stroke="#555" stroke-width="2"/>
<text transform="translate(1322.0,566) scale(0.9,1)" text-anchor="middle" fill="#3a3a3a" style="font-family:'DejaVu Sans Condensed','DejaVu Sans',sans-serif;font-stretch:condensed;font-size:23.5px">40</text>
<line x1="1381.4" y1="535.6" x2="1381.4" y2="542.8" stroke="#555" stroke-width="2"/>
<text transform="translate(1381.8,566) scale(0.9,1)" text-anchor="middle" fill="#3a3a3a" style="font-family:'DejaVu Sans Condensed','DejaVu Sans',sans-serif;font-stretch:condensed;font-size:23.5px">50</text>
<line x1="1441.2" y1="535.6" x2="1441.2" y2="542.8" stroke="#555" stroke-width="2"/>
<text transform="translate(1441.6,566) scale(0.9,1)" text-anchor="middle" fill="#3a3a3a" style="font-family:'DejaVu Sans Condensed','DejaVu Sans',sans-serif;font-stretch:condensed;font-size:23.5px">60</text>
<line x1="1501.0" y1="535.6" x2="1501.0" y2="542.8" stroke="#555" stroke-width="2"/>
<text transform="translate(1501.4,566) scale(0.9,1)" text-anchor="middle" fill="#3a3a3a" style="font-family:'DejaVu Sans Condensed','DejaVu Sans',sans-serif;font-stretch:condensed;font-size:23.5px">70</text>
<line x1="1560.7" y1="535.6" x2="1560.7" y2="542.8" stroke="#555" stroke-width="2"/>
<text transform="translate(1561.1,566) scale(0.9,1)" text-anchor="middle" fill="#3a3a3a" style="font-family:'DejaVu Sans Condensed','DejaVu Sans',sans-serif;font-stretch:condensed;font-size:23.5px">80</text>
<line x1="1620.5" y1="535.6" x2="1620.5" y2="542.8" stroke="#555" stroke-width="2"/>
<text transform="translate(1620.9,566) scale(0.9,1)" text-anchor="middle" fill="#3a3a3a" style="font-family:'DejaVu Sans Condensed','DejaVu Sans',sans-serif;font-stretch:condensed;font-size:23.5px">90</text>
<line x1="1680.3" y1="535.6" x2="1680.3" y2="542.8" stroke="#555" stroke-width="2"/>
<text transform="translate(1680.7,566) scale(0.9,1)" text-anchor="middle" fill="#3a3a3a" style="font-family:'DejaVu Sans Condensed','DejaVu Sans',sans-serif;font-stretch:condensed;font-size:23.5px">100</text>
<text x="1378.9" y="609" text-anchor="middle" style="font-family:'Liberation Sans',Arial,sans-serif;font-weight:bold;font-size:22px">Original average attractiveness</text>
<rect x="1680.1" y="151.50" width="19.799999999999997" height="23.12" fill="#c4c4c4"/>
<rect x="1680.1" y="174.42" width="7.800000000000001" height="21.82" fill="#c4c4c4"/>
<rect x="1680.1" y="196.04" width="7.800000000000001" height="21.42" fill="#c4c4c4"/>
<rect x="1680.1" y="216.86" width="105.2" height="22.22" fill="#c4c4c4"/>
<rect x="1680.1" y="238.08" width="83.9" height="22.42" fill="#c4c4c4"/>
<rect x="1680.1" y="259.50" width="126.7" height="22.42" fill="#c4c4c4"/>
<rect x="1680.1" y="280.92" width="105.2" height="22.22" fill="#c4c4c4"/>
<rect x="1680.1" y="301.34" width="212.1" height="22.72" fill="#c4c4c4"/>
<rect x="1680.1" y="323.96" width="137.70000000000002" height="21.82" fill="#c4c4c4"/>
<rect x="1680.1" y="345.38" width="105.2" height="21.82" fill="#c4c4c4"/>
<rect x="1680.1" y="366.60" width="40.6" height="22.22" fill="#c4c4c4"/>
<rect x="1680.1" y="387.82" width="40.6" height="22.42" fill="#c4c4c4"/>
<rect x="1680.1" y="494.00" width="8.5" height="21.50" fill="#c4c4c4"/>
<rect x="1680.1" y="152.80" width="19.799999999999997" height="20.52" fill="#333"/>
<rect x="1680.1" y="175.72" width="7.800000000000001" height="19.22" fill="#333"/>
<rect x="1680.1" y="197.34" width="7.800000000000001" height="18.82" fill="#333"/>
<rect x="1680.1" y="218.16" width="105.2" height="19.62" fill="#333"/>
<rect x="1680.1" y="239.38" width="83.9" height="19.82" fill="#333"/>
<rect x="1680.1" y="260.80" width="126.7" height="19.82" fill="#333"/>
<rect x="1680.1" y="282.22" width="105.2" height="19.62" fill="#333"/>
<rect x="1680.1" y="302.64" width="212.1" height="20.12" fill="#333"/>
<rect x="1680.1" y="325.26" width="137.70000000000002" height="19.22" fill="#333"/>
<rect x="1680.1" y="346.68" width="105.2" height="19.22" fill="#333"/>
<rect x="1680.1" y="367.90" width="40.6" height="19.62" fill="#333"/>
<rect x="1680.1" y="389.12" width="40.6" height="19.82" fill="#333"/>
<rect x="1680.1" y="495.30" width="8.5" height="18.90" fill="#333"/>
<line x1="1679.5" y1="65.7" x2="1679.5" y2="533.1" stroke="#999" stroke-width="1.1"/>
<line x1="1677.0" y1="88.5" x2="1679.5" y2="88.5" stroke="#888" stroke-width="1.5"/>
<line x1="1677.0" y1="195" x2="1679.5" y2="195" stroke="#888" stroke-width="1.5"/>
<line x1="1677.0" y1="409" x2="1679.5" y2="409" stroke="#888" stroke-width="1.5"/>
<line x1="1677.0" y1="515.9" x2="1679.5" y2="515.9" stroke="#888" stroke-width="1.5"/>
<polyline points="1679.51,65.70 1679.51,66.70 1679.51,67.70 1679.51,68.70 1679.51,69.70 1679.51,70.70 1679.51,71.70 1679.52,72.70 1679.52,73.70 1679.52,74.70 1679.52,75.70 1679.52,76.70 1679.52,77.70 1679.52,78.70 1679.53,79.70 1679.53,80.70 1679.53,81.70 1679.53,82.70 1679.54,83.70 1679.54,84.70 1679.54,85.70 1679.55,86.70 1679.55,87.70 1679.55,88.70 1679.56,89.70 1679.56,90.70 1679.57,91.70 1679.57,92.70 1679.58,93.70 1679.58,94.70 1679.59,95.70 1679.60,96.70 1679.60,97.70 1679.61,98.70 1679.62,99.70 1679.63,100.70 1679.64,101.70 1679.65,102.70 1679.66,103.70 1679.67,104.70 1679.68,105.70 1679.70,106.70 1679.71,107.70 1679.73,108.70 1679.74,109.70 1679.76,110.70 1679.78,111.70 1679.80,112.70 1679.82,113.70 1679.84,114.70 1679.86,115.70 1679.89,116.70 1679.91,117.70 1679.94,118.70 1679.97,119.70 1680.00,120.70 1680.03,121.70 1680.07,122.70 1680.11,123.70 1680.15,124.70 1680.19,125.70 1680.23,126.70 1680.28,127.70 1680.33,128.70 1680.38,129.70 1680.43,130.70 1680.49,131.70 1680.55,132.70 1680.62,133.70 1680.69,134.70 1680.76,135.70 1680.84,136.70 1680.92,137.70 1681.00,138.70 1681.09,139.70 1681.18,140.70 1681.28,141.70 1681.38,142.70 1681.49,143.70 1681.61,144.70 1681.73,145.70 1681.85,146.70 1681.98,147.70 1682.12,148.70 1682.27,149.70 1682.42,150.70 1682.58,151.70 1682.75,152.70 1682.92,153.70 1683.10,154.70 1683.29,155.70 1683.49,156.70 1683.70,157.70 1683.92,158.70 1684.15,159.70 1684.39,160.70 1684.64,161.70 1684.90,162.70 1685.17,163.70 1685.45,164.70 1685.74,165.70 1686.05,166.70 1686.37,167.70 1686.70,168.70 1687.04,169.70 1687.40,170.70 1687.78,171.70 1688.16,172.70 1688.56,173.70 1688.98,174.70 1689.41,175.70 1689.86,176.70 1690.33,177.70 1690.81,178.70 1691.31,179.70 1691.83,180.70 1692.36,181.70 1692.92,182.70 1693.49,183.70 1694.08,184.70 1694.69,185.70 1695.32,186.70 1695.98,187.70 1696.65,188.70 1697.34,189.70 1698.06,190.70 1698.80,191.70 1699.55,192.70 1700.34,193.70 1701.14,194.70 1701.97,195.70 1702.82,196.70 1703.69,197.70 1704.59,198.70 1705.51,199.70 1706.46,200.70 1707.43,201.70 1708.43,202.70 1709.45,203.70 1710.49,204.70 1711.56,205.70 1712.66,206.70 1713.78,207.70 1714.93,208.70 1716.10,209.70 1717.30,210.70 1718.52,211.70 1719.77,212.70 1721.04,213.70 1722.34,214.70 1723.66,215.70 1725.00,216.70 1726.38,217.70 1727.77,218.70 1729.19,219.70 1730.63,220.70 1732.10,221.70 1733.59,222.70 1735.10,223.70 1736.63,224.70 1738.19,225.70 1739.76,226.70 1741.36,227.70 1742.97,228.70 1744.61,229.70 1746.26,230.70 1747.93,231.70 1749.62,232.70 1751.32,233.70 1753.04,234.70 1754.77,235.70 1756.51,236.70 1758.27,237.70 1760.04,238.70 1761.82,239.70 1763.61,240.70 1765.41,241.70 1767.21,242.70 1769.02,243.70 1770.84,244.70 1772.66,245.70 1774.48,246.70 1776.30,247.70 1778.13,248.70 1779.95,249.70 1781.77,250.70 1783.58,251.70 1785.39,252.70 1787.19,253.70 1788.98,254.70 1790.77,255.70 1792.54,256.70 1794.30,257.70 1796.05,258.70 1797.78,259.70 1799.49,260.70 1801.19,261.70 1802.86,262.70 1804.51,263.70 1806.14,264.70 1807.75,265.70 1809.33,266.70 1810.88,267.70 1812.41,268.70 1813.90,269.70 1815.36,270.70 1816.79,271.70 1818.19,272.70 1819.55,273.70 1820.87,274.70 1822.15,275.70 1823.40,276.70 1824.60,277.70 1825.76,278.70 1826.88,279.70 1827.96,280.70 1828.99,281.70 1829.97,282.70 1830.90,283.70 1831.79,284.70 1832.63,285.70 1833.41,286.70 1834.15,287.70 1834.83,288.70 1835.47,289.70 1836.04,290.70 1836.57,291.70 1837.04,292.70 1837.46,293.70 1837.82,294.70 1838.12,295.70 1838.37,296.70 1838.56,297.70 1838.70,298.70 1838.78,299.70 1838.80,300.70 1838.77,301.70 1838.68,302.70 1838.53,303.70 1838.32,304.70 1838.06,305.70 1837.75,306.70 1837.38,307.70 1836.95,308.70 1836.47,309.70 1835.93,310.70 1835.34,311.70 1834.70,312.70 1834.01,313.70 1833.26,314.70 1832.46,315.70 1831.62,316.70 1830.72,317.70 1829.78,318.70 1828.78,319.70 1827.75,320.70 1826.66,321.70 1825.54,322.70 1824.37,323.70 1823.15,324.70 1821.90,325.70 1820.61,326.70 1819.28,327.70 1817.91,328.70 1816.51,329.70 1815.07,330.70 1813.61,331.70 1812.11,332.70 1810.58,333.70 1809.02,334.70 1807.43,335.70 1805.82,336.70 1804.18,337.70 1802.53,338.70 1800.85,339.70 1799.15,340.70 1797.43,341.70 1795.70,342.70 1793.95,343.70 1792.19,344.70 1790.41,345.70 1788.63,346.70 1786.83,347.70 1785.03,348.70 1783.22,349.70 1781.40,350.70 1779.58,351.70 1777.76,352.70 1775.94,353.70 1774.12,354.70 1772.29,355.70 1770.48,356.70 1768.66,357.70 1766.85,358.70 1765.05,359.70 1763.25,360.70 1761.46,361.70 1759.69,362.70 1757.92,363.70 1756.16,364.70 1754.42,365.70 1752.69,366.70 1750.98,367.70 1749.28,368.70 1747.59,369.70 1745.93,370.70 1744.28,371.70 1742.65,372.70 1741.04,373.70 1739.45,374.70 1737.87,375.70 1736.32,376.70 1734.80,377.70 1733.29,378.70 1731.80,379.70 1730.34,380.70 1728.90,381.70 1727.49,382.70 1726.10,383.70 1724.73,384.70 1723.39,385.70 1722.07,386.70 1720.78,387.70 1719.51,388.70 1718.27,389.70 1717.05,390.70 1715.86,391.70 1714.70,392.70 1713.55,393.70 1712.44,394.70 1711.35,395.70 1710.28,396.70 1709.24,397.70 1708.23,398.70 1707.23,399.70 1706.27,400.70 1705.33,401.70 1704.41,402.70 1703.52,403.70 1702.65,404.70 1701.80,405.70 1700.98,406.70 1700.18,407.70 1699.40,408.70 1698.65,409.70 1697.91,410.70 1697.20,411.70 1696.51,412.70 1695.84,413.70 1695.20,414.70 1694.57,415.70 1693.96,416.70 1693.37,417.70 1692.80,418.70 1692.25,419.70 1691.72,420.70 1691.21,421.70 1690.71,422.70 1690.23,423.70 1689.77,424.70 1689.33,425.70 1688.90,426.70 1688.48,427.70 1688.08,428.70 1687.70,429.70 1687.33,430.70 1686.97,431.70 1686.63,432.70 1686.30,433.70 1685.99,434.70 1685.68,435.70 1685.39,436.70 1685.11,437.70 1684.84,438.70 1684.59,439.70 1684.34,440.70 1684.10,441.70 1683.88,442.70 1683.66,443.70 1683.45,444.70 1683.26,445.70 1683.07,446.70 1682.88,447.70 1682.71,448.70 1682.55,449.70 1682.39,450.70 1682.24,451.70 1682.09,452.70 1681.96,453.70 1681.83,454.70 1681.70,455.70 1681.58,456.70 1681.47,457.70 1681.36,458.70 1681.26,459.70 1681.16,460.70 1681.07,461.70 1680.98,462.70 1680.90,463.70 1680.82,464.70 1680.74,465.70 1680.67,466.70 1680.61,467.70 1680.54,468.70 1680.48,469.70 1680.42,470.70 1680.37,471.70 1680.32,472.70 1680.27,473.70 1680.22,474.70 1680.18,475.70 1680.14,476.70 1680.10,477.70 1680.06,478.70 1680.03,479.70 1680.00,480.70 1679.96,481.70 1679.94,482.70 1679.91,483.70 1679.88,484.70 1679.86,485.70 1679.83,486.70 1679.81,487.70 1679.79,488.70 1679.77,489.70 1679.76,490.70 1679.74,491.70 1679.72,492.70 1679.71,493.70 1679.69,494.70 1679.68,495.70 1679.67,496.70 1679.66,497.70 1679.65,498.70 1679.64,499.70 1679.63,500.70 1679.62,501.70 1679.61,502.70 1679.60,503.70 1679.60,504.70 1679.59,505.70 1679.58,506.70 1679.58,507.70 1679.57,508.70 1679.57,509.70 1679.56,510.70 1679.56,511.70 1679.55,512.70 1679.55,513.70 1679.55,514.70 1679.54,515.70 1679.54,516.70 1679.54,517.70 1679.53,518.70 1679.53,519.70 1679.53,520.70 1679.53,521.70 1679.52,522.70 1679.52,523.70 1679.52,524.70 1679.52,525.70 1679.52,526.70 1679.52,527.70 1679.52,528.70 1679.51,529.70 1679.51,530.70 1679.51,531.70 1679.51,532.70" fill="none" stroke="#111" stroke-width="2"/>
<text x="1709.5" y="101" style="font-family:'Liberation Sans',Arial,sans-serif;font-size:18.3px;word-spacing:0.3px">M = 0</text>
<text x="1709.5" y="123.2" style="font-family:'Liberation Sans',Arial,sans-serif;font-size:18.3px;word-spacing:0.3px">SD = 5</text>
<text x="1709.5" y="146" style="font-family:'Liberation Sans',Arial,sans-serif;font-size:18.3px;word-spacing:0.3px">N = 96</text>
<circle cx="1226.4" cy="172.2" r="5.95" fill="#333" stroke="#262626" stroke-width="1.3"/>
<circle cx="1261.9" cy="225.2" r="5.95" fill="#333" stroke="#262626" stroke-width="1.3"/>
<circle cx="1274.9" cy="234.8" r="5.95" fill="#333" stroke="#262626" stroke-width="1.3"/>
<circle cx="1281.4" cy="234.8" r="5.95" fill="#333" stroke="#262626" stroke-width="1.3"/>
<circle cx="1299.3" cy="229.3" r="5.95" fill="#333" stroke="#262626" stroke-width="1.3"/>
<circle cx="1331.9" cy="213" r="5.95" fill="#333" stroke="#262626" stroke-width="1.3"/>
<circle cx="1339.7" cy="223.9" r="5.95" fill="#333" stroke="#262626" stroke-width="1.3"/>
<circle cx="1357.2" cy="223.9" r="5.95" fill="#333" stroke="#262626" stroke-width="1.3"/>
<circle cx="1372.6" cy="157.1" r="5.95" fill="#333" stroke="#262626" stroke-width="1.3"/>
<circle cx="1379.9" cy="181.2" r="5.95" fill="#333" stroke="#262626" stroke-width="1.3"/>
<circle cx="1364.4" cy="229.9" r="5.95" fill="#333" stroke="#262626" stroke-width="1.3"/>
<circle cx="1379.1" cy="228.8" r="5.95" fill="#333" stroke="#262626" stroke-width="1.3"/>
<circle cx="1414.9" cy="231.5" r="5.95" fill="#333" stroke="#262626" stroke-width="1.3"/>
<circle cx="1287.9" cy="247.5" r="5.95" fill="#333" stroke="#262626" stroke-width="1.3"/>
<circle cx="1302.3" cy="256.8" r="5.95" fill="#333" stroke="#262626" stroke-width="1.3"/>
<circle cx="1270.8" cy="260" r="5.95" fill="#333" stroke="#262626" stroke-width="1.3"/>
<circle cx="1265.1" cy="266.5" r="5.95" fill="#333" stroke="#262626" stroke-width="1.3"/>
<circle cx="1279" cy="284.9" r="5.95" fill="#333" stroke="#262626" stroke-width="1.3"/>
<circle cx="1273.6" cy="308.4" r="5.95" fill="#333" stroke="#262626" stroke-width="1.3"/>
<circle cx="1314" cy="303.2" r="5.95" fill="#333" stroke="#262626" stroke-width="1.3"/>
<circle cx="1317.3" cy="283.6" r="5.95" fill="#333" stroke="#262626" stroke-width="1.3"/>
<circle cx="1323.8" cy="278.7" r="5.95" fill="#333" stroke="#262626" stroke-width="1.3"/>
<circle cx="1320.5" cy="289.3" r="5.95" fill="#333" stroke="#262626" stroke-width="1.3"/>
<circle cx="1328.7" cy="295" r="5.95" fill="#333" stroke="#262626" stroke-width="1.3"/>
<circle cx="1335.2" cy="299.1" r="5.95" fill="#333" stroke="#262626" stroke-width="1.3"/>
<circle cx="1333.5" cy="304.5" r="5.95" fill="#333" stroke="#262626" stroke-width="1.3"/>
<circle cx="1333.5" cy="311.3" r="5.95" fill="#333" stroke="#262626" stroke-width="1.3"/>
<circle cx="1344.1" cy="313" r="5.95" fill="#333" stroke="#262626" stroke-width="1.3"/>
<circle cx="1350.7" cy="317.8" r="5.95" fill="#333" stroke="#262626" stroke-width="1.3"/>
<circle cx="1354.7" cy="305.6" r="5.95" fill="#333" stroke="#262626" stroke-width="1.3"/>
<circle cx="1344.1" cy="242.9" r="5.95" fill="#333" stroke="#262626" stroke-width="1.3"/>
<circle cx="1336.8" cy="252.7" r="5.95" fill="#333" stroke="#262626" stroke-width="1.3"/>
<circle cx="1343" cy="252.7" r="5.95" fill="#333" stroke="#262626" stroke-width="1.3"/>
<circle cx="1354.7" cy="247.8" r="5.95" fill="#333" stroke="#262626" stroke-width="1.3"/>
<circle cx="1354.7" cy="269.8" r="5.95" fill="#333" stroke="#262626" stroke-width="1.3"/>
<circle cx="1362" cy="237" r="5.95" fill="#333" stroke="#262626" stroke-width="1.3"/>
<circle cx="1443.4" cy="255.1" r="5.95" fill="#333" stroke="#262626" stroke-width="1.3"/>
<circle cx="1374.5" cy="269" r="5.95" fill="#333" stroke="#262626" stroke-width="1.3"/>
<circle cx="1387.6" cy="286.6" r="5.95" fill="#333" stroke="#262626" stroke-width="1.3"/>
<circle cx="1410" cy="273.9" r="5.95" fill="#333" stroke="#262626" stroke-width="1.3"/>
<circle cx="1419.8" cy="270.6" r="5.95" fill="#333" stroke="#262626" stroke-width="1.3"/>
<circle cx="1425.5" cy="272.2" r="5.95" fill="#333" stroke="#262626" stroke-width="1.3"/>
<circle cx="1437.7" cy="273.9" r="5.95" fill="#333" stroke="#262626" stroke-width="1.3"/>
<circle cx="1443.4" cy="275.5" r="5.95" fill="#333" stroke="#262626" stroke-width="1.3"/>
<circle cx="1407.6" cy="287.7" r="5.95" fill="#333" stroke="#262626" stroke-width="1.3"/>
<circle cx="1410" cy="296.7" r="5.95" fill="#333" stroke="#262626" stroke-width="1.3"/>
<circle cx="1401.6" cy="303.2" r="5.95" fill="#333" stroke="#262626" stroke-width="1.3"/>
<circle cx="1419.8" cy="304.8" r="5.95" fill="#333" stroke="#262626" stroke-width="1.3"/>
<circle cx="1386.4" cy="304" r="5.95" fill="#333" stroke="#262626" stroke-width="1.3"/>
<circle cx="1374.2" cy="307.2" r="5.95" fill="#333" stroke="#262626" stroke-width="1.3"/>
<circle cx="1368.5" cy="317" r="5.95" fill="#333" stroke="#262626" stroke-width="1.3"/>
<circle cx="1449.9" cy="300.7" r="5.95" fill="#333" stroke="#262626" stroke-width="1.3"/>
<circle cx="1473.2" cy="300.4" r="5.95" fill="#333" stroke="#262626" stroke-width="1.3"/>
<circle cx="1441.8" cy="312.1" r="5.95" fill="#333" stroke="#262626" stroke-width="1.3"/>
<circle cx="1463.8" cy="308.9" r="5.95" fill="#333" stroke="#262626" stroke-width="1.3"/>
<circle cx="1473.6" cy="316.2" r="5.95" fill="#333" stroke="#262626" stroke-width="1.3"/>
<circle cx="1447.5" cy="319.5" r="5.95" fill="#333" stroke="#262626" stroke-width="1.3"/>
<circle cx="1464.8" cy="319.8" r="5.95" fill="#333" stroke="#262626" stroke-width="1.3"/>
<circle cx="1457.5" cy="327.1" r="5.95" fill="#333" stroke="#262626" stroke-width="1.3"/>
<circle cx="1442" cy="333.6" r="5.95" fill="#333" stroke="#262626" stroke-width="1.3"/>
<circle cx="1479.4" cy="336.9" r="5.95" fill="#333" stroke="#262626" stroke-width="1.3"/>
<circle cx="1529.9" cy="311.7" r="5.95" fill="#333" stroke="#262626" stroke-width="1.3"/>
<circle cx="1307.5" cy="336.9" r="5.95" fill="#333" stroke="#262626" stroke-width="1.3"/>
<circle cx="1314" cy="344.2" r="5.95" fill="#333" stroke="#262626" stroke-width="1.3"/>
<circle cx="1323" cy="342.6" r="5.95" fill="#333" stroke="#262626" stroke-width="1.3"/>
<circle cx="1345.4" cy="350.7" r="5.95" fill="#333" stroke="#262626" stroke-width="1.3"/>
<circle cx="1345.4" cy="358" r="5.95" fill="#333" stroke="#262626" stroke-width="1.3"/>
<circle cx="1354.7" cy="334.4" r="5.95" fill="#333" stroke="#262626" stroke-width="1.3"/>
<circle cx="1375" cy="332" r="5.95" fill="#333" stroke="#262626" stroke-width="1.3"/>
<circle cx="1365.2" cy="343.4" r="5.95" fill="#333" stroke="#262626" stroke-width="1.3"/>
<circle cx="1371.8" cy="344.2" r="5.95" fill="#333" stroke="#262626" stroke-width="1.3"/>
<circle cx="1383.6" cy="345" r="5.95" fill="#333" stroke="#262626" stroke-width="1.3"/>
<circle cx="1390.5" cy="357.2" r="5.95" fill="#333" stroke="#262626" stroke-width="1.3"/>
<circle cx="1382.7" cy="362.4" r="5.95" fill="#333" stroke="#262626" stroke-width="1.3"/>
<circle cx="1373.4" cy="373.2" r="5.95" fill="#333" stroke="#262626" stroke-width="1.3"/>
<circle cx="1388" cy="378.4" r="5.95" fill="#333" stroke="#262626" stroke-width="1.3"/>
<circle cx="1398.6" cy="385.7" r="5.95" fill="#333" stroke="#262626" stroke-width="1.3"/>
<circle cx="1385.6" cy="392.5" r="5.95" fill="#333" stroke="#262626" stroke-width="1.3"/>
<circle cx="1390.5" cy="392.5" r="5.95" fill="#333" stroke="#262626" stroke-width="1.3"/>
<circle cx="1404.3" cy="345" r="5.95" fill="#333" stroke="#262626" stroke-width="1.3"/>
<circle cx="1406" cy="363.7" r="5.95" fill="#333" stroke="#262626" stroke-width="1.3"/>
<circle cx="1410.8" cy="330.4" r="5.95" fill="#333" stroke="#262626" stroke-width="1.3"/>
<circle cx="1415.7" cy="336.9" r="5.95" fill="#333" stroke="#262626" stroke-width="1.3"/>
<circle cx="1414" cy="407.8" r="5.95" fill="#333" stroke="#262626" stroke-width="1.3"/>
<circle cx="1418.5" cy="407" r="5.95" fill="#333" stroke="#262626" stroke-width="1.3"/>
<circle cx="1442.3" cy="341" r="5.95" fill="#333" stroke="#262626" stroke-width="1.3"/>
<circle cx="1475.2" cy="347.5" r="5.95" fill="#333" stroke="#262626" stroke-width="1.3"/>
<circle cx="1480.4" cy="378.1" r="5.95" fill="#333" stroke="#262626" stroke-width="1.3"/>
<circle cx="1507" cy="345.1" r="5.95" fill="#333" stroke="#262626" stroke-width="1.3"/>
<circle cx="1467.2" cy="495.1" r="5.95" fill="#333" stroke="#262626" stroke-width="1.3"/>
<line x1="1079.7" y1="302" x2="1677.5" y2="302" stroke="#505050" stroke-width="2.7"/>
</svg></body></html>
